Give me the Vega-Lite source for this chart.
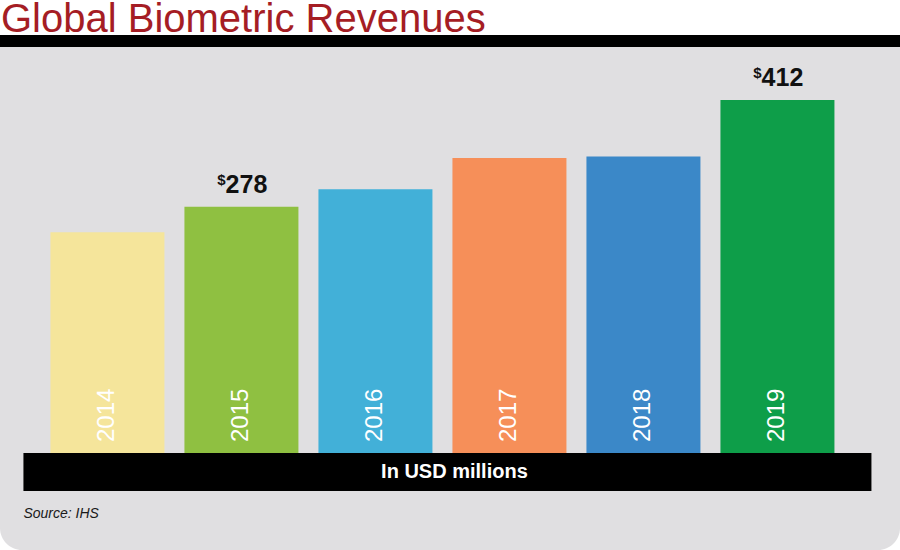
{
  "$schema": "https://vega.github.io/schema/vega-lite/v6.json",
  "width": 900,
  "height": 550,
  "autosize": {"type": "fit", "contains": "padding"},
  "padding": 0,
  "background": "#ffffff",
  "title": {
    "text": "Global Biometric Revenues",
    "anchor": "start",
    "frame": "group",
    "font": "Liberation Sans",
    "fontSize": 40,
    "fontWeight": "normal",
    "color": "#a51d24",
    "offset": -5,
    "dx": 1
  },
  "config": {
    "view": {"stroke": null, "fill": "#e0dfe1", "cornerRadius": 22}
  },
  "data": {
    "values": [
      {"year": "2014", "revenue": 246},
      {"year": "2015", "revenue": 278},
      {"year": "2016", "revenue": 300},
      {"year": "2017", "revenue": 339},
      {"year": "2018", "revenue": 341},
      {"year": "2019", "revenue": 412}
    ]
  },
  "encoding": {
    "x": {
      "field": "year",
      "type": "nominal",
      "axis": null,
      "scale": {"paddingInner": 0.1493, "paddingOuter": 0.4328, "align": 0.4348}
    }
  },
  "layer": [
    {
      "data": {"values": [{}]},
      "mark": {"type": "rect", "fill": "#e0dfe1"},
      "encoding": {
        "x": null,
        "y": {"datum": 478.6, "type": "quantitative", "axis": null, "scale": {"domain": [-153.1, 493.6], "nice": false, "zero": false}},
        "y2": {"datum": 437}
      }
    },
    {
      "data": {"values": [{}]},
      "mark": {"type": "rect", "fill": "#000000"},
      "encoding": {
        "x": null,
        "y": {"datum": 493.6, "type": "quantitative"},
        "y2": {"datum": 478.6}
      }
    },
    {
      "mark": {"type": "bar"},
      "encoding": {
        "y": {"field": "revenue", "type": "quantitative"},
        "y2": {"datum": -31.3},
        "color": {
          "field": "year",
          "type": "nominal",
          "legend": null,
          "scale": {"range": ["#f5e59b", "#8fc041", "#42b0d8", "#f68f59", "#3b88c8", "#0e9e49"]}
        }
      }
    },
    {
      "data": {"values": [{}]},
      "mark": {"type": "rect", "fill": "#000000", "xOffset": -27, "x2Offset": 37},
      "encoding": {
        "x": {"datum": "2014", "type": "nominal", "bandPosition": 0},
        "x2": {"datum": "2019", "bandPosition": 1},
        "y": {"datum": -31.3, "type": "quantitative"},
        "y2": {"datum": -79.0}
      }
    },
    {
      "mark": {
        "type": "text",
        "angle": 270,
        "align": "left",
        "baseline": "middle",
        "dx": 11,
        "font": "Liberation Sans",
        "fontSize": 24,
        "color": "#ffffff"
      },
      "encoding": {
        "text": {"field": "year"},
        "y": {"datum": -31.3, "type": "quantitative"}
      }
    },
    {
      "transform": [{"filter": {"field": "year", "oneOf": ["2015", "2019"]}}],
      "mark": {
        "type": "text",
        "align": "center",
        "baseline": "alphabetic",
        "dx": 5,
        "dy": -14,
        "font": "Liberation Sans",
        "fontSize": 25,
        "fontWeight": "bold",
        "color": "#111111"
      },
      "encoding": {
        "text": {"field": "revenue"},
        "y": {"field": "revenue", "type": "quantitative"}
      }
    },
    {
      "transform": [{"filter": {"field": "year", "oneOf": ["2015", "2019"]}}],
      "mark": {
        "type": "text",
        "text": "$",
        "align": "center",
        "baseline": "alphabetic",
        "dx": -20,
        "dy": -22,
        "font": "Liberation Sans",
        "fontSize": 15,
        "fontWeight": "bold",
        "color": "#111111"
      },
      "encoding": {
        "y": {"field": "revenue", "type": "quantitative"}
      }
    },
    {
      "data": {"values": [{}]},
      "mark": {
        "type": "text",
        "text": "In USD millions",
        "align": "center",
        "baseline": "middle",
        "dx": 2,
        "font": "Liberation Sans",
        "fontSize": 20,
        "fontWeight": "bold",
        "color": "#ffffff"
      },
      "encoding": {
        "x": {"datum": "2017", "type": "nominal", "bandPosition": 0},
        "y": {"datum": -55.2, "type": "quantitative"}
      }
    },
    {
      "data": {"values": [{}]},
      "mark": {
        "type": "text",
        "text": "Source: IHS",
        "align": "left",
        "baseline": "alphabetic",
        "dx": -27,
        "font": "Liberation Sans",
        "fontSize": 14,
        "fontStyle": "italic",
        "color": "#1a1a1a"
      },
      "encoding": {
        "x": {"datum": "2014", "type": "nominal", "bandPosition": 0},
        "y": {"datum": -112.9, "type": "quantitative"}
      }
    }
  ]
}
